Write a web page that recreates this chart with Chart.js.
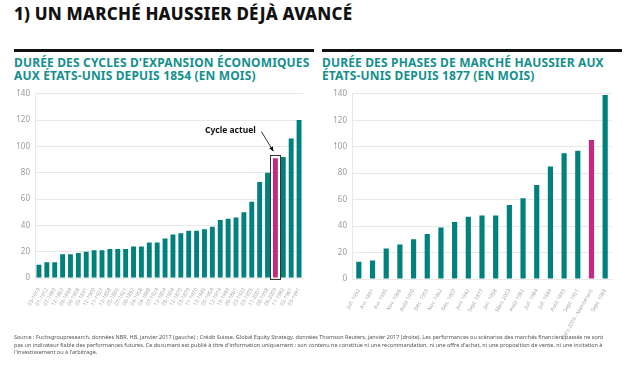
<!DOCTYPE html>
<html lang="fr">
<head>
<meta charset="utf-8">
<script src="https://cdn.jsdelivr.net/npm/chart.js@4.4.1/dist/chart.umd.min.js"></script>
<style>
  body { margin: 0; width: 628px; height: 367px; background: #fff; position: relative; overflow: hidden; font-family: 'Noto Sans', sans-serif; }
  .title { position: absolute; left: 14px; top: 2px; font-size: 17px; font-weight: 800; color: #111; letter-spacing: 0.2px; }
  .rule { position: absolute; top: 49px; height: 3px; background: #111; }
  .sub { position: absolute; top: 56px; font-size: 12px; line-height: 13px; font-weight: 700; color: #14908c; letter-spacing: 0.15px; white-space: nowrap; }
  .wrap { position: absolute; }
  .foot { position: absolute; left: 14px; top: 334px; font-size: 5.5px; line-height: 7.6px; color: #555; white-space: nowrap; }
</style>
</head>
<body>
<div class="title">1) UN MARCHÉ HAUSSIER DÉJÀ AVANCÉ</div>
<div class="rule" style="left:14px;width:300px"></div>
<div class="rule" style="left:322px;width:300px"></div>
<div class="sub" style="left:14px">DURÉE DES CYCLES D'EXPANSION ÉCONOMIQUES<br>AUX ÉTATS-UNIS DEPUIS 1854 (EN MOIS)</div>
<div class="sub" style="left:322px">DURÉE DES PHASES DE MARCHÉ HAUSSIER AUX<br>ÉTATS-UNIS DEPUIS 1877 (EN MOIS)</div>
<div class="wrap" style="left:0;top:84px;width:318px;height:246px"><canvas id="left-chart"></canvas></div>
<div class="wrap" style="left:318px;top:84px;width:310px;height:261px"><canvas id="right-chart"></canvas></div>
<div class="foot">Source : Fuchsgroupresearch, données NBR, HB, janvier 2017 (gauche) ; Crédit Suisse, Global Equity Strategy, données Thomson Reuters, janvier 2017 (droite). Les performances ou scénarios des marchés financiers passés ne sont<br>pas un indicateur fiable des performances futures. Ce document est publié à titre d'information uniquement : son contenu ne constitue ni une recommandation, ni une offre d'achat, ni une proposition de vente, ni une incitation à<br>l'investissement ou à l'arbitrage.</div>

<script>
// left: US expansion cycles (months)
const cycleLabels = ['03-1919','01-1912','07-1980','12-1867','06-1894','06-1908','05-1891','12-1900','11-1927','12-1858','05-1885','07-1921','06-1897','04-1958','04-1888','07-1924','12-1854','08-1904','12-1870','03-1879','11-1970','10-1945','05-1954','12-1914','10-1949','06-1861','03-1933','03-1975','11-2001','06-1938','06-2009','11-1982','02-1961','03-1991'];
const cycleMonths = [10,12,12,18,18,19,20,21,21,22,22,22,24,24,27,27,30,33,34,36,36,37,39,44,45,46,50,58,73,80,91,92,106,120];
const currentCycle = '06-2009';

// right: US bull markets (months)
const bullLabels = ['Juil. 1932','Avr. 1891','Avr. 1935','Nov. 1966','Août 1970','Déc. 1903','Nov. 1962','Déc. 1907','Juin 1942','Sept. 1877','Jan. 1958','Mars 2003','Août 1982','Juil. 1984','Juil. 1949','Août 1893','Sept. 1921','Mars 2009 - Maintenant','Sept. 1988'];
const bullMonths = [13,14,23,26,30,34,39,43,47,48,48,56,61,71,85,95,97,105,139];
const currentBull = 'Mars 2009 - Maintenant';

const yTicks = [0,20,40,60,80,100,120,140];

const TEAL = '#00817e';
const PINK = '#c5287f';
const GRID = '#e8e8e8';

function colorsFor(labels, current) {
  return labels.map(l => l === current ? PINK : TEAL);
}

// box + "Cycle actuel" arrow around highlighted bar
const annotatePlugin = {
  id: 'annotate',
  afterDatasetsDraw(chart, args, opts) {
    if (!opts || opts.index == null) return;
    const bar = chart.getDatasetMeta(0).data[opts.index];
    const y = chart.scales.y;
    const ctx = chart.ctx;
    ctx.save();
    ctx.strokeStyle = '#333';
    ctx.lineWidth = 1;
    const half = bar.width / 2 + 2.5;
    ctx.strokeRect(Math.round(bar.x - half) + 0.5, Math.round(bar.y - 3) + 0.5, Math.round(half * 2), Math.round(bar.base - bar.y + 5));
    ctx.fillStyle = '#111';
    ctx.font = 'bold 8.5px "Noto Sans"';
    ctx.textAlign = 'center';
    ctx.textBaseline = 'middle';
    const ty = y.getPixelForValue(112);
    ctx.fillText('Cycle actuel', bar.x - 45, ty);
    // arrow
    const x1 = bar.x - 14, y1 = ty + 1, x2 = bar.x - 2, y2 = bar.y - 7;
    ctx.beginPath(); ctx.moveTo(x1, y1); ctx.lineTo(x2, y2); ctx.stroke();
    const a = Math.atan2(y2 - y1, x2 - x1);
    ctx.beginPath();
    ctx.moveTo(x2, y2);
    ctx.lineTo(x2 - 5 * Math.cos(a - 0.45), y2 - 5 * Math.sin(a - 0.45));
    ctx.lineTo(x2 - 5 * Math.cos(a + 0.45), y2 - 5 * Math.sin(a + 0.45));
    ctx.closePath(); ctx.fill();
    ctx.restore();
  }
};

function makeChart(canvasId, labels, values, current, cfg) {
  return new Chart(document.getElementById(canvasId), {
    type: 'bar',
    data: {
      labels,
      datasets: [{
        data: values,
        backgroundColor: colorsFor(labels, current),
        barPercentage: cfg.barPct,
        categoryPercentage: 1
      }]
    },
    options: {
      responsive: true,
      maintainAspectRatio: false,
      animation: false,
      layout: { padding: { top: cfg.padTop, right: cfg.padRight, left: 0, bottom: 0 } },
      plugins: { legend: { display: false }, tooltip: { enabled: false }, annotate: cfg.annotate || {} },
      scales: {
        x: {
          grid: { display: false },
          border: { color: GRID, width: 1 },
          ticks: { color: '#a6a6a6', font: { size: cfg.xFont, family: 'Noto Sans' }, minRotation: 60, maxRotation: 60, autoSkip: false, padding: 1 },
          afterFit(scale) { scale.height = cfg.xHeight; }
        },
        y: {
          min: 0, max: 140,
          afterBuildTicks(scale) { scale.ticks = yTicks.map(v => ({ value: v })); },
          grid: { color: GRID, lineWidth: 1, drawTicks: false },
          border: { color: GRID, width: 1 },
          ticks: { color: '#9a9a9a', font: { size: 8, family: 'Noto Sans' }, padding: 5 },
          afterFit(scale) { scale.width = cfg.yWidth; }
        }
      }
    },
    plugins: [annotatePlugin]
  });
}

makeChart('left-chart', cycleLabels, cycleMonths, currentCycle, {
  barPct: 0.62, padTop: 8, padRight: 15, xHeight: 52, yWidth: 35, xFont: 5.2,
  annotate: { index: cycleLabels.indexOf(currentCycle) }
});
makeChart('right-chart', bullLabels, bullMonths, currentBull, {
  barPct: 0.38, padTop: 7, padRight: 16, xHeight: 66, yWidth: 34, xFont: 5.2
});
</script>
</body>
</html>
